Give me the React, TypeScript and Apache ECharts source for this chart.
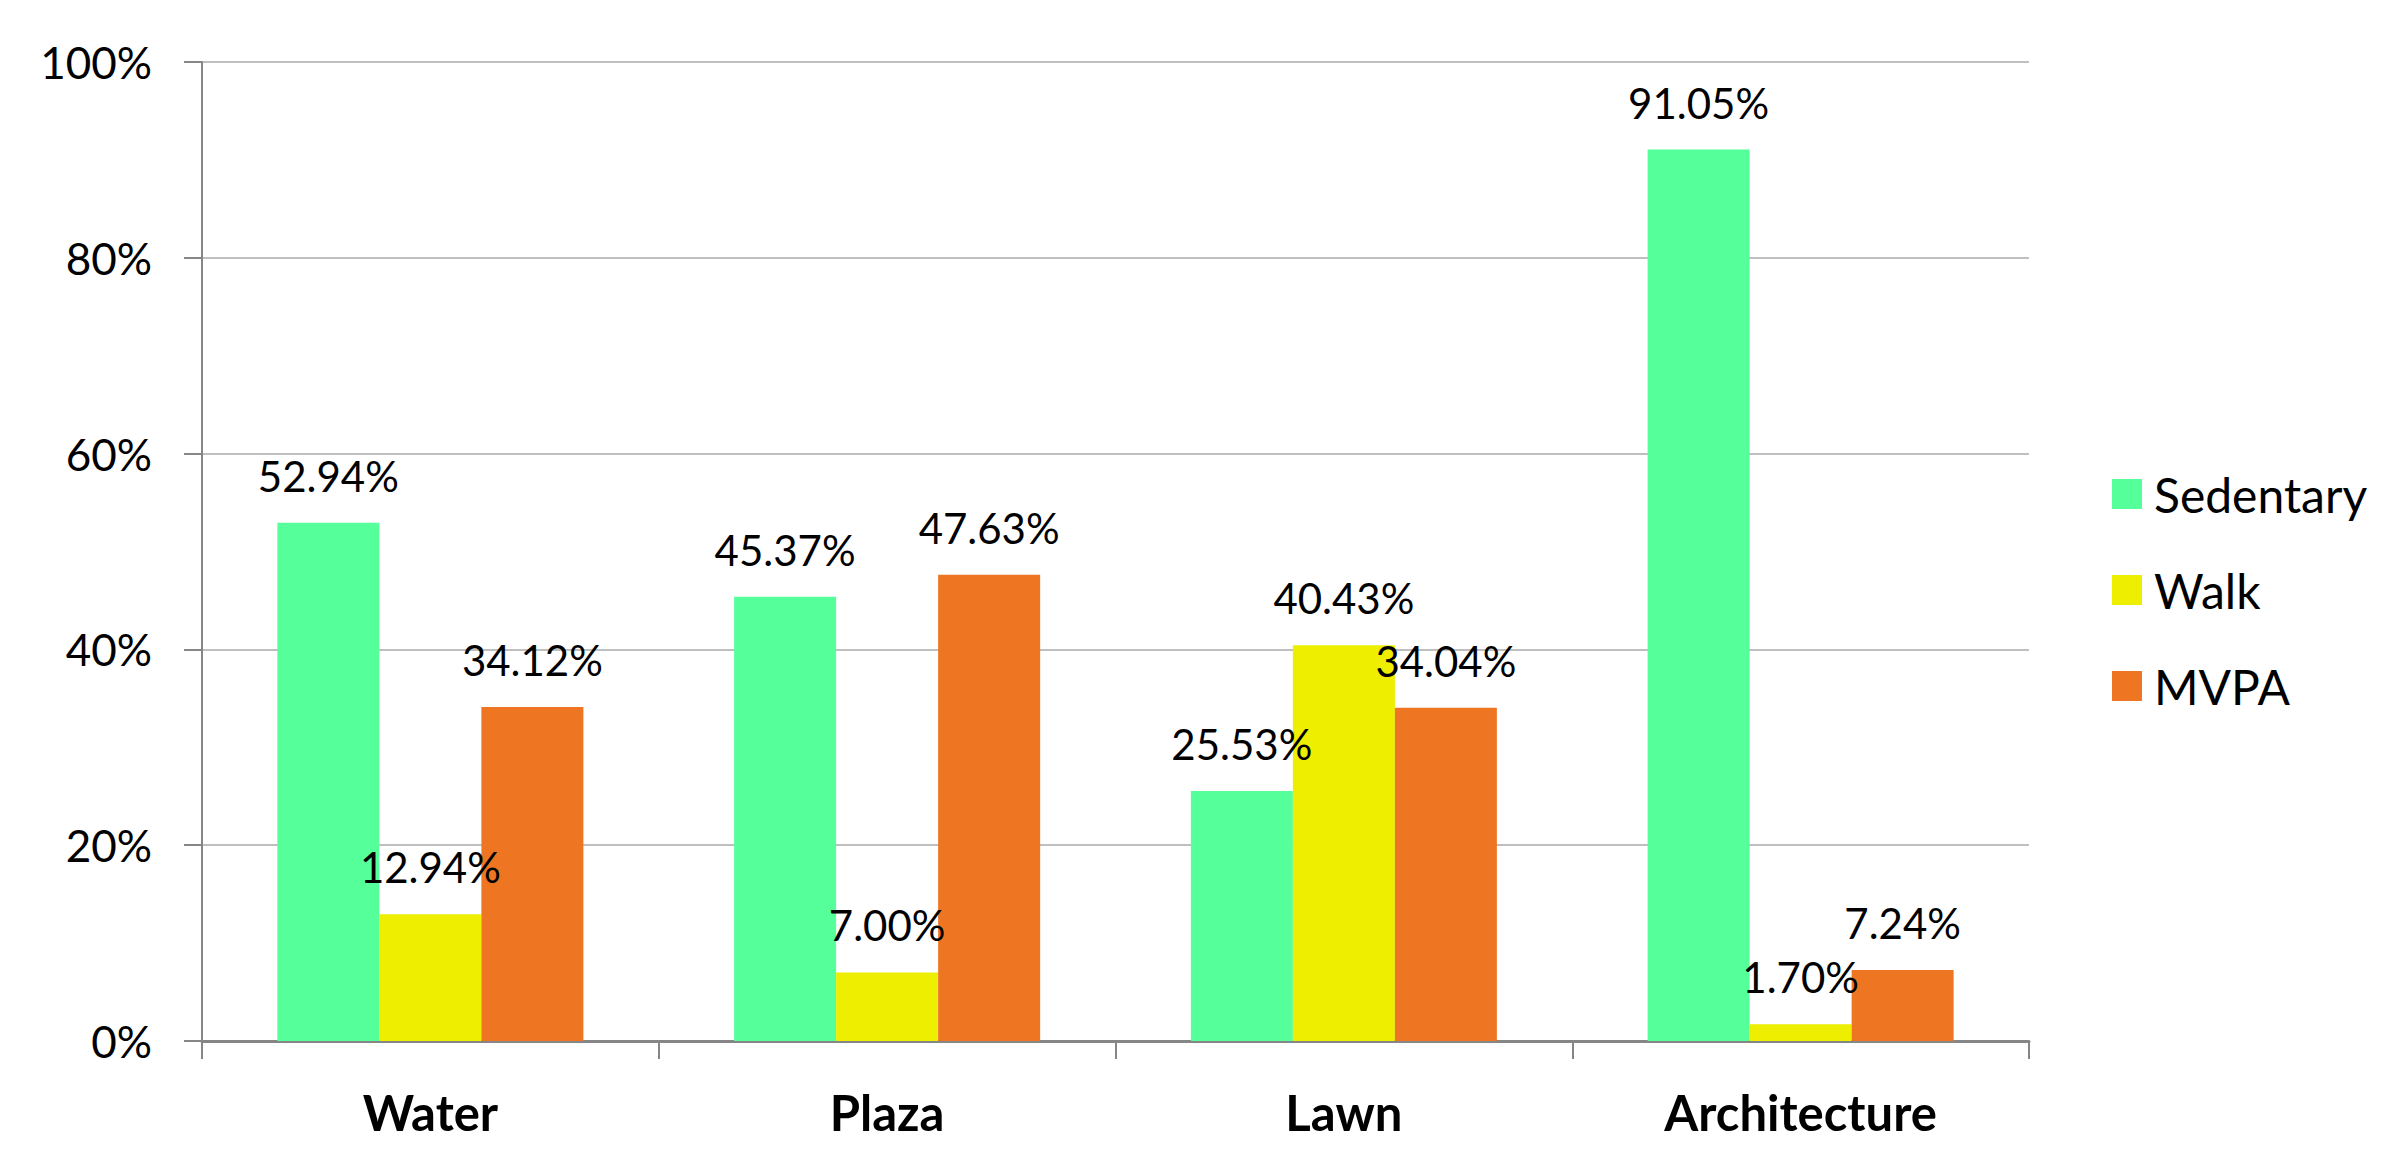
import React, { useEffect, useRef } from 'react';
import * as echarts from 'echarts';

const categories = ['Water', 'Plaza', 'Lawn', 'Architecture'];
const sedentary = [52.94, 45.37, 25.53, 91.05];
const walk = [12.94, 7.0, 40.43, 1.7];
const mvpa = [34.12, 47.63, 34.04, 7.24];

const FONT = 'Lato';

const App: React.FC = () => {
  const chartRef = useRef<HTMLDivElement>(null);

  useEffect(() => {
    if (!chartRef.current) return;
    const chart = echarts.init(chartRef.current, undefined, { renderer: 'svg' });

    const label = {
      show: true,
      position: 'top' as const,
      distance: 26,
      color: '#000',
      fontFamily: FONT,
      fontSize: 42,
      formatter: (p: any) => p.value.toFixed(2) + '%'
    };

    const option: echarts.EChartsOption = {
      animation: false,
      backgroundColor: '#fff',
      textStyle: { fontFamily: FONT },
      grid: {
        left: 202,
        right: 378,
        top: 62,
        bottom: 124
      },
      legend: {
        orient: 'vertical',
        left: 2112,
        top: 470,
        padding: 0,
        itemWidth: 30,
        itemHeight: 30,
        itemGap: 48,
        icon: 'rect',
        textStyle: {
          fontFamily: FONT,
          fontSize: 48,
          lineHeight: 48,
          color: '#000',
          padding: [0, 0, 0, 7]
        },
        data: ['Sedentary', 'Walk', 'MVPA']
      },
      xAxis: {
        type: 'category',
        data: categories,
        axisLine: { lineStyle: { color: '#868686', width: 3 } },
        axisTick: { show: true, length: 18, lineStyle: { color: '#868686', width: 2 } },
        axisLabel: {
          margin: 46,
          color: '#000',
          fontFamily: FONT,
          fontWeight: 'bold',
          fontSize: 49
        }
      },
      yAxis: {
        type: 'value',
        min: 0,
        max: 100,
        interval: 20,
        axisLine: { show: true, lineStyle: { color: '#868686', width: 2 } },
        axisTick: { show: true, length: 18, lineStyle: { color: '#868686', width: 2 } },
        axisLabel: {
          margin: 50,
          color: '#000',
          fontFamily: FONT,
          fontSize: 44,
          formatter: '{value}%'
        },
        splitLine: { lineStyle: { color: '#bfbfbf', width: 2 } }
      },
      series: [
        {
          name: 'Sedentary',
          type: 'bar',
          data: sedentary,
          barGap: '0%',
          barCategoryGap: '33%',
          itemStyle: { color: '#55ff9a' },
          label
        },
        {
          name: 'Walk',
          type: 'bar',
          data: walk,
          itemStyle: { color: '#eeee00' },
          label
        },
        {
          name: 'MVPA',
          type: 'bar',
          data: mvpa,
          itemStyle: { color: '#ee7623' },
          label
        }
      ]
    };

    chart.setOption(option);

    return () => {
      chart.dispose();
    };
  }, []);

  return (
    <div
      ref={chartRef}
      style={{ position: 'fixed', left: 0, top: 0, width: '2407px', height: '1165px' }}
    />
  );
};

export default App;
